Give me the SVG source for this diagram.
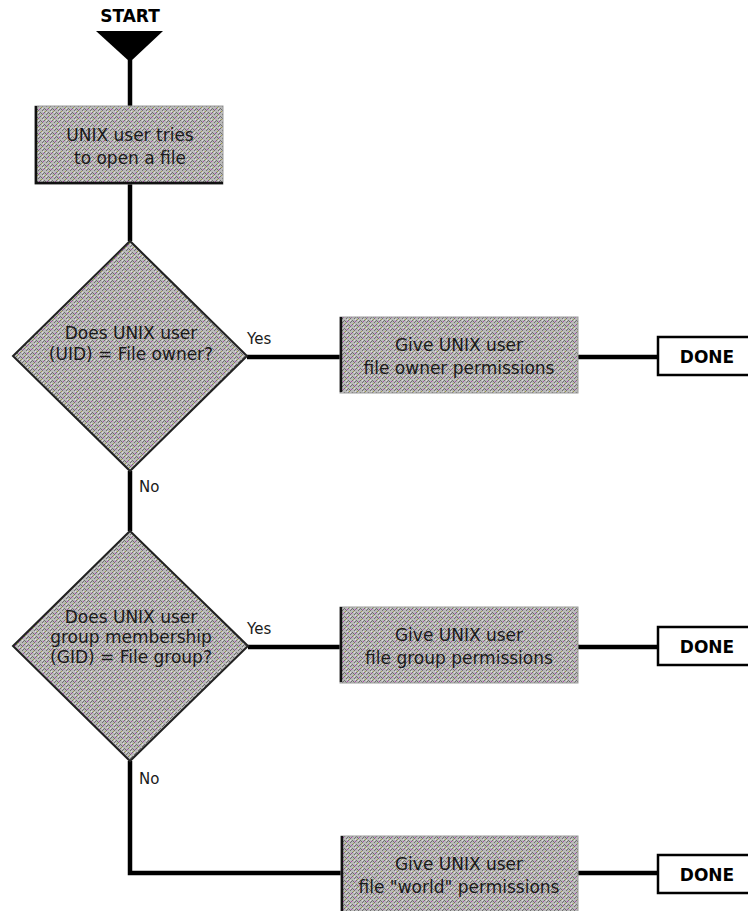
<svg xmlns="http://www.w3.org/2000/svg" width="748" height="911" viewBox="0 0 748 911">
  <defs>
    <!-- dithered halftone fill used by process and decision shapes -->
    <pattern id="dither" width="8" height="8" patternUnits="userSpaceOnUse">
      <rect width="8" height="8" fill="#bababa"/>
      <g fill="#6e6e6e">
        <rect x="0" y="0" width="1" height="1"/>
        <rect x="4" y="0" width="1" height="1"/>
        <rect x="2" y="2" width="1" height="1"/>
        <rect x="6" y="2" width="1" height="1"/>
        <rect x="0" y="4" width="1" height="1"/>
        <rect x="4" y="4" width="1" height="1"/>
        <rect x="2" y="6" width="1" height="1"/>
        <rect x="6" y="6" width="1" height="1"/>
        <rect x="1" y="1" width="1" height="1"/>
        <rect x="5" y="5" width="1" height="1"/>
        <rect x="3" y="5" width="1" height="1"/>
        <rect x="7" y="1" width="1" height="1"/>
      </g>
      <g fill="#dedede">
        <rect x="6" y="0" width="1" height="1"/>
        <rect x="2" y="4" width="1" height="1"/>
        <rect x="3" y="7" width="1" height="1"/>
      </g>
      <rect x="3" y="1" width="1" height="1" fill="#b040b0"/>
      <rect x="7" y="5" width="1" height="1" fill="#b040b0"/>
      <rect x="1" y="3" width="1" height="1" fill="#a4a040"/>
      <rect x="5" y="7" width="1" height="1" fill="#a4a040"/>
    </pattern>
    <style>
      .lbl { font-family: "DejaVu Sans", "Liberation Sans", sans-serif; font-size: 17px; fill: #1a1a1a; text-anchor: middle; }
      .tag { font-family: "DejaVu Sans", "Liberation Sans", sans-serif; font-size: 15px; fill: #1a1a1a; }
      .bold { font-family: "DejaVu Sans", "Liberation Sans", sans-serif; font-weight: bold; font-size: 17px; fill: #000; text-anchor: middle; }
      .proc { fill: url(#dither); stroke: #9a9a9a; stroke-width: 1; }
      .shade { fill: none; stroke: #111; stroke-width: 2.5; }
      .dec { fill: url(#dither); stroke: #222; stroke-width: 2; }
      .done { fill: #fff; stroke: #000; stroke-width: 2.5; }
      .wire { fill: none; stroke: #000; stroke-width: 4.5; }
    </style>
  </defs>

  <rect width="748" height="911" fill="#fff"/>

  <!-- connectors -->
  <g id="connectors" class="wire">
    <path d="M130 60 V106"/>
    <path d="M130 184 V241"/>
    <path d="M130 471 V531"/>
    <path d="M130 761 V873 H341"/>
    <path d="M247 357 H340"/>
    <path d="M578 357 H658"/>
    <path d="M248 647 H340"/>
    <path d="M578 647 H658"/>
    <path d="M578 873 H658"/>
  </g>

  <!-- start marker -->
  <g id="start">
    <text class="bold" x="130" y="22">START</text>
    <polygon points="96,31 163,31 130,62" fill="#000"/>
  </g>

  <!-- first process step -->
  <g id="open-file">
    <rect class="proc" x="35" y="106" width="188" height="78"/>
    <path class="shade" d="M36 106 V183 H223"/>
    <text class="lbl" x="130" y="141">UNIX user tries</text>
    <text class="lbl" x="130" y="164">to open a file</text>
  </g>

  <!-- owner check -->
  <g id="check-owner">
    <polygon class="dec" points="130,241 247,356 130,471 13,356"/>
    <text class="lbl" x="131" y="339">Does UNIX user</text>
    <text class="lbl" x="131" y="360">(UID) = File owner?</text>
  </g>
  <text class="tag" x="247" y="344">Yes</text>
  <text class="tag" x="139" y="492">No</text>

  <g id="owner-perms">
    <rect class="proc" x="340" y="317" width="238" height="76"/>
    <path class="shade" d="M341 317 V392"/>
    <text class="lbl" x="459" y="351">Give UNIX user</text>
    <text class="lbl" x="459" y="374">file owner permissions</text>
  </g>
  <g id="done-owner">
    <rect class="done" x="658" y="337" width="100" height="38"/>
    <text class="bold" x="707" y="363">DONE</text>
  </g>

  <!-- group check -->
  <g id="check-group">
    <polygon class="dec" points="130,531 248,646 130,761 13,646"/>
    <text class="lbl" x="131" y="623">Does UNIX user</text>
    <text class="lbl" x="131" y="643">group membership</text>
    <text class="lbl" x="131" y="663">(GID) = File group?</text>
  </g>
  <text class="tag" x="247" y="634">Yes</text>
  <text class="tag" x="139" y="784">No</text>

  <g id="group-perms">
    <rect class="proc" x="340" y="607" width="238" height="76"/>
    <path class="shade" d="M341 607 V682"/>
    <text class="lbl" x="459" y="641">Give UNIX user</text>
    <text class="lbl" x="459" y="664">file group permissions</text>
  </g>
  <g id="done-group">
    <rect class="done" x="658" y="627" width="100" height="38"/>
    <text class="bold" x="707" y="653">DONE</text>
  </g>

  <!-- fallback: world permissions -->
  <g id="world-perms">
    <rect class="proc" x="341" y="836" width="237" height="80"/>
    <path class="shade" d="M342 836 V911"/>
    <text class="lbl" x="459" y="870">Give UNIX user</text>
    <text class="lbl" x="459" y="893">file "world" permissions</text>
  </g>
  <g id="done-world">
    <rect class="done" x="658" y="855" width="100" height="38"/>
    <text class="bold" x="707" y="881">DONE</text>
  </g>
</svg>
